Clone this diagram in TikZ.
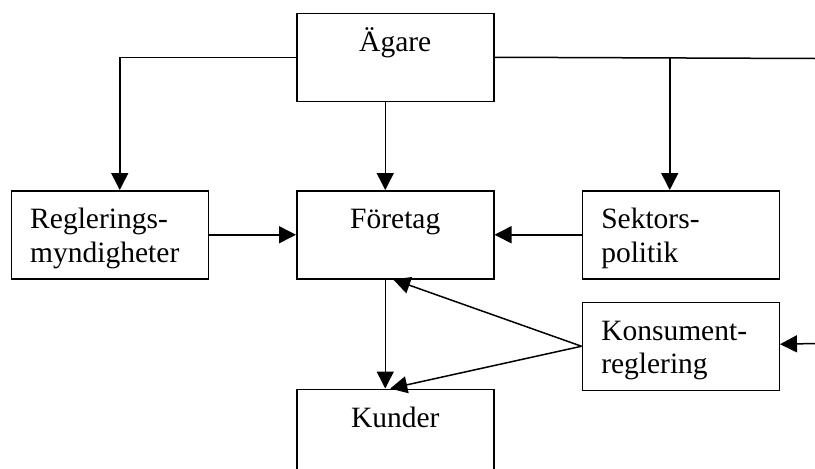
\documentclass[tikz,border=0pt]{standalone}
\usepackage{fontspec}
\setmainfont{Liberation Serif}
\usetikzlibrary{arrows.meta,positioning}

\begin{document}
\begin{tikzpicture}[x=1pt,y=-1pt,
  ruta/.style={draw,line width=1.5pt,minimum width=197pt,minimum height=88pt,
               inner xsep=19pt,inner ysep=0pt,text height=38pt,text depth=50pt,
               font=\fontsize{29.5}{33.5}\selectfont},
  mitt/.style={ruta,align=center,text width=159pt},
  vanster/.style={ruta,align=left,text width=159pt},
  pil/.style={-{Triangle[length=17pt,width=17pt]},line width=1.5pt}]
\useasboundingbox (0,0) rectangle (815,469);
\node[mitt,anchor=north west] (for) at (296,190) {Företag};
\node[mitt,above=88pt of for] (ag) {Ägare};
\node[vanster,left=87pt of for] (reg) {Reglerings-\\myndigheter};
\node[vanster,right=87pt of for] (sek) {Sektors-\\politik};
\node[vanster,below=22pt of sek] (kon) {Konsument-\\reglering};
\node[mitt,below=109pt of for] (kun) {Kunder};
\coordinate (hoger) at (815,58.5);
\coordinate (kant) at (815,343.5);
% from the owners
\draw[pil] (ag.west) -| ([xshift=10pt]reg.north);
\draw[pil] (ag.east) -| ([xshift=-11pt]sek.north);
\draw[line width=1.5pt] (ag.east) -- (hoger);
\draw[pil] ([xshift=-10pt]ag.south) -- ([xshift=-10pt]for.north);
% into the firm
\draw[pil] (reg) -- (for);
\draw[pil] (sek) -- (for);
\draw[pil] ([xshift=-10pt]for.south) -- ([xshift=-10pt]kun.north);
% consumer rules
\draw[pil] (kon.west) -- ([xshift=-2pt]for.south);
\draw[pil] (kon.west) -- ([xshift=-5pt]kun.north);
\draw[pil] (kant) -- (kon);
\end{tikzpicture}
\end{document}
